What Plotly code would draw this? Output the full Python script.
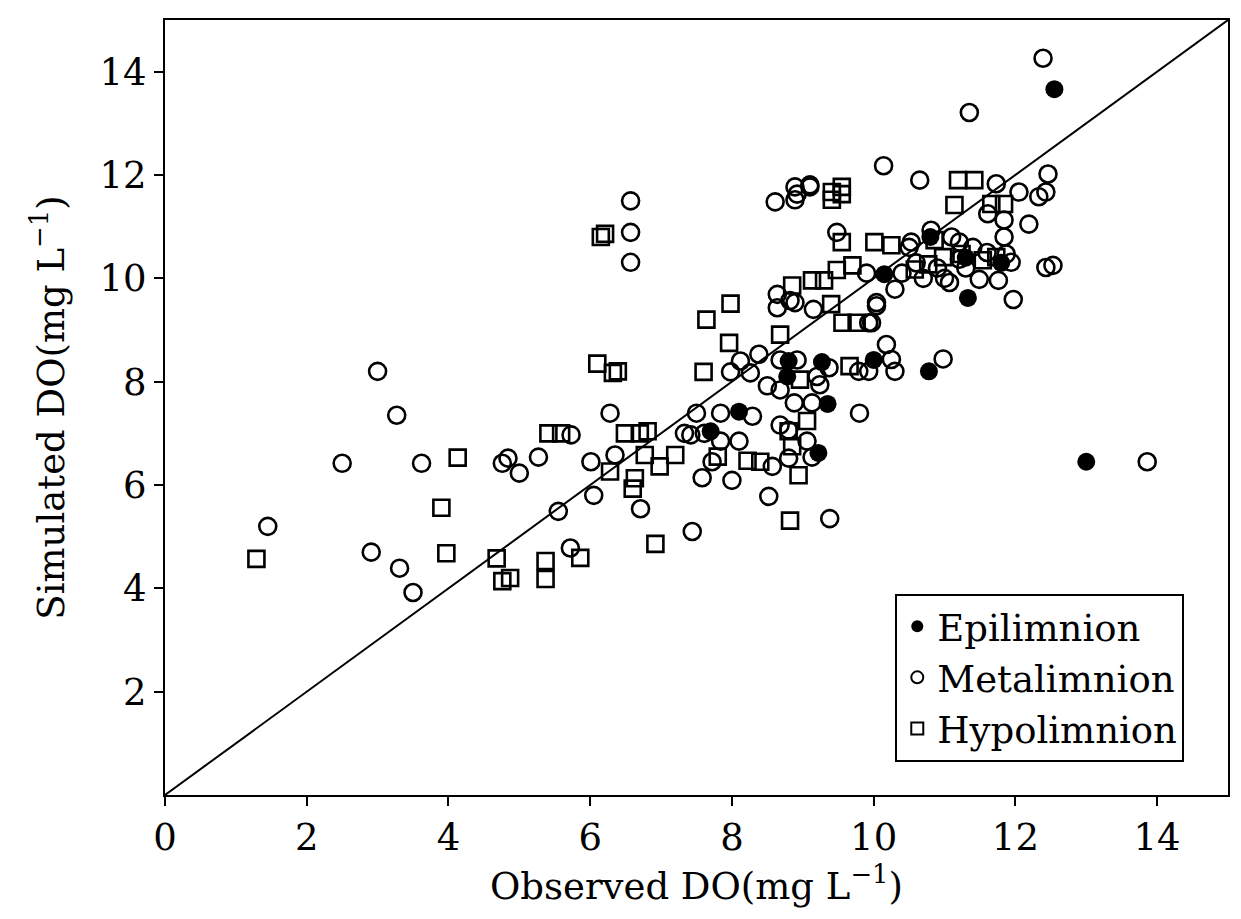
import plotly.graph_objects as go

# Epilimnion (filled circles)
epi_obs = [12.55, 13.0, 11.33, 10.78, 10.15, 10.0, 9.27, 9.35, 9.22, 8.8, 8.78, 8.1, 7.7, 10.8, 11.3, 11.8]
epi_sim = [13.66, 6.45, 9.62, 8.2, 10.08, 8.42, 8.38, 7.57, 6.62, 8.4, 8.1, 7.42, 7.04, 10.8, 10.4, 10.3]

# Metalimnion (open circles)
met_obs = [1.45, 2.5, 2.91, 3.0, 3.27, 3.31, 3.5, 3.62, 4.76, 4.84, 5.0, 5.27, 5.55, 5.73, 5.72,
           6.05, 6.01, 6.35, 6.28, 6.57, 6.57, 6.57, 6.71, 7.44, 7.5, 7.58, 7.33, 7.42, 7.61, 7.84,
           7.84, 7.72, 8.0, 8.1, 8.29, 8.12, 7.98, 8.26, 8.38, 8.5, 8.68, 8.52, 8.57, 8.64, 8.82,
           8.64, 8.89, 9.15, 8.68, 8.92, 8.88, 9.13, 9.24, 9.37, 8.68, 8.8, 9.06, 9.13, 8.8, 9.38,
           9.8, 9.79, 9.93, 9.93, 9.97, 10.04, 10.18, 10.25, 10.3, 10.98, 13.86,
           8.61, 8.89, 8.89, 9.1, 9.1, 8.92, 10.14, 10.65, 11.35, 12.39, 12.46, 11.73, 12.05, 12.33,
           12.43, 11.61, 11.84, 12.19, 11.84, 11.87, 11.94, 12.43, 12.53, 11.97, 11.07, 11.49, 11.76,
           11.21, 11.21, 10.3, 9.48, 10.53, 10.81, 10.04,
           10.4, 10.6, 10.7, 10.9, 11.0, 11.3, 11.4, 11.6, 10.5, 11.1, 9.9, 9.2]
met_sim = [5.2, 6.42, 4.7, 8.2, 7.35, 4.39, 3.92, 6.42, 6.42, 6.52, 6.23, 6.54, 5.49, 6.97, 4.78,
           5.8, 6.45, 6.58, 7.39, 11.5, 10.89, 10.31, 5.54, 5.1, 7.39, 6.14, 7.0, 6.97, 7.0, 7.39,
           6.85, 6.45, 6.09, 6.85, 7.33, 8.4, 8.19, 8.17, 8.53, 7.92, 7.84, 5.78, 6.36, 9.69, 9.57,
           9.43, 9.53, 9.4, 8.42, 8.42, 7.59, 7.59, 7.94, 8.27, 7.16, 7.06, 6.85, 6.54, 6.52, 5.35,
           7.39, 8.2, 8.2, 9.14, 9.14, 9.47, 8.72, 8.43, 8.2, 8.44, 6.45,
           11.48, 11.77, 11.52, 11.77, 11.81, 11.63, 12.18, 11.9, 13.21, 14.26, 12.02, 11.83, 11.67, 11.58,
           11.67, 11.25, 11.13, 11.05, 10.8, 10.47, 10.31, 10.21, 10.25, 9.59, 9.92, 9.98, 9.96,
           10.7, 10.37, 9.79, 10.89, 10.7, 10.93, 9.53,
           10.1, 10.3, 10.0, 10.2, 10.0, 10.2, 10.6, 10.5, 10.6, 10.8, 10.1, 8.1]

# Hypolimnion (open squares)
hyp_obs = [1.29, 3.9, 3.97, 4.13, 4.68, 4.76, 4.87, 5.37, 5.37, 5.41, 5.59, 5.86, 6.15, 6.21, 6.1,
           6.32, 6.39, 6.6, 6.63, 6.28, 6.49, 6.7, 6.81, 6.77, 6.92, 6.98, 7.2, 7.6, 7.64, 7.96,
           7.98, 7.8, 8.22, 8.4, 8.68, 8.82, 8.94, 8.8, 8.85, 9.06, 8.96, 9.4, 9.56, 9.76, 9.66,
           9.41, 9.55, 9.41, 9.55, 9.55, 10.01, 10.25, 9.7, 9.48, 9.3, 9.13, 8.85, 10.58, 10.77,
           10.86, 11.19, 11.42, 11.14, 11.66, 11.84, 10.98, 11.54, 11.73, 11.24]
hyp_sim = [4.57, 5.56, 4.68, 6.53, 4.58, 4.14, 4.2, 4.53, 4.18, 7.0, 7.0, 4.59, 10.8, 10.86, 8.35,
           8.17, 8.2, 5.93, 6.13, 6.26, 7.0, 7.0, 7.04, 6.58, 4.86, 6.36, 6.58, 8.19, 9.2, 8.75,
           9.51, 6.55, 6.47, 6.45, 8.91, 5.31, 6.19, 7.04, 6.75, 7.24, 8.04, 9.5, 9.14, 9.14, 8.3,
           11.67, 11.77, 11.52, 11.63, 10.7, 10.7, 10.64, 10.25, 10.16, 9.96, 9.96, 9.86, 10.17, 10.27,
           10.74, 11.9, 11.9, 11.42, 11.44, 11.44, 10.41, 10.35, 10.41, 10.47]

line_xy = [0, 15]
x_ticks = [0, 2, 4, 6, 8, 10, 12, 14]
y_ticks = [2, 4, 6, 8, 10, 12, 14]

FONT = "DejaVu Serif"

fig = go.Figure()
fig.add_trace(go.Scatter(x=line_xy, y=line_xy, mode="lines",
                         line=dict(color="black", width=2), showlegend=False, hoverinfo="skip"))
fig.add_trace(go.Scatter(x=hyp_obs, y=hyp_sim, mode="markers", name="Hypolimnion",
                         marker=dict(symbol="square-open", size=16, color="black",
                                     line=dict(width=2.6, color="black"))))
fig.add_trace(go.Scatter(x=met_obs, y=met_sim, mode="markers", name="Metalimnion",
                         marker=dict(symbol="circle-open", size=17, color="black",
                                     line=dict(width=2.6, color="black"))))
fig.add_trace(go.Scatter(x=epi_obs, y=epi_sim, mode="markers", name="Epilimnion",
                         marker=dict(symbol="circle", size=18, color="black",
                                     line=dict(width=0))))

axis_common = dict(showgrid=False, zeroline=False, showline=True, linecolor="black", linewidth=2,
                   mirror=True, ticks="outside", ticklen=9, tickwidth=2, tickcolor="black",
                   tickfont=dict(family=FONT, size=37, color="black"))

fig.update_layout(
    width=1241, height=919,
    margin=dict(l=165, r=13, t=20, b=124),
    plot_bgcolor="white", paper_bgcolor="white",
    font=dict(family=FONT, color="black"),
    xaxis=dict(range=[0, 15], tickvals=x_ticks, **axis_common,
               title=dict(text="Observed DO(mg L<sup>−1</sup>)", font=dict(family=FONT, size=37),
                          standoff=14)),
    yaxis=dict(range=[0, 15], tickvals=y_ticks, **axis_common,
               title=dict(text="Simulated DO(mg L<sup>−1</sup>)", font=dict(family=FONT, size=37),
                          standoff=24)),
    legend=dict(x=0.687, y=0.043, xanchor="left", yanchor="bottom",
                bgcolor="white", bordercolor="black", borderwidth=2,
                font=dict(family=FONT, size=37, color="black"),
                itemsizing="constant", traceorder="reversed", itemwidth=30,
                tracegroupgap=0),
    showlegend=True,
)

fig.write_html("out.html")
